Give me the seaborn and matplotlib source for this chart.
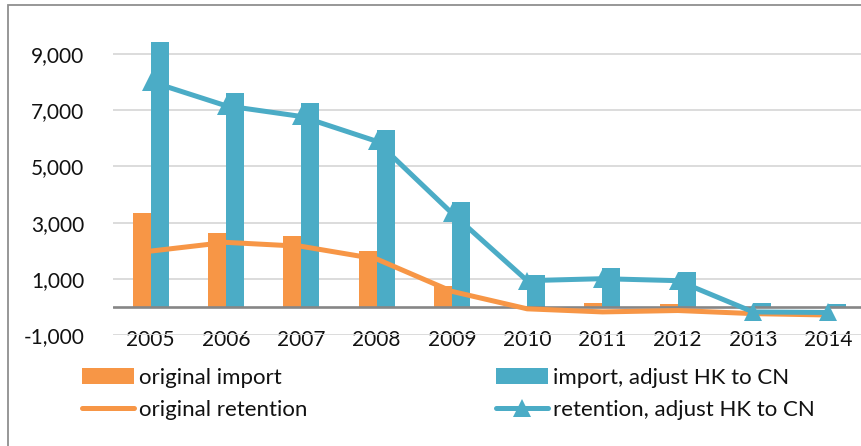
import numpy as np
import pandas as pd
import matplotlib
matplotlib.use("Agg")
import matplotlib.pyplot as plt
from matplotlib.patches import Patch, Rectangle
from matplotlib.lines import Line2D
import seaborn as sns

years = ["2005", "2006", "2007", "2008", "2009", "2010", "2011", "2012", "2013", "2014"]
original_import = [3340, 2650, 2540, 2000, 740, 20, 160, 110, 0, 0]
import_adjusted = [9400, 7590, 7240, 6280, 3730, 1140, 1380, 1240, 130, 100]
original_retention = [1990, 2300, 2160, 1710, 560, -60, -170, -120, -230, -280]
retention_adjusted = [8010, 7150, 6770, 5890, 3340, 940, 1010, 940, -170, -190]
yticks = [-1000, 1000, 3000, 5000, 7000, 9000]

series_names = ["original import", "import, adjust HK to CN",
                "original retention", "retention, adjust HK to CN"]
ORANGE = "#F79646"
BLUE = "#4BACC6"

sns.set_style("white")
plt.rcParams["font.family"] = ["Lato", "DejaVu Sans"]
plt.rcParams["font.size"] = 15

W, H = 862, 446
fig = plt.figure(figsize=(W / 100, H / 100), dpi=100)
left, right = 113, 866
top, bottom = 25.5, 335.3
ax = fig.add_axes([left / W, (H - bottom) / H, (right - left) / W, (bottom - top) / H])

bars = pd.DataFrame({
    "year": years * 2,
    "series": [series_names[0]] * len(years) + [series_names[1]] * len(years),
    "value": original_import + import_adjusted,
})
sns.barplot(data=bars, x="year", y="value", hue="series", order=years,
            hue_order=series_names[:2], palette=[ORANGE, BLUE], width=0.478,
            saturation=1, legend=False, ax=ax, zorder=2, linewidth=0)

pos = np.arange(len(years))
ax.axhline(0, color="#868686", lw=1.9, zorder=2.5)
sns.lineplot(x=pos, y=original_retention, color=ORANGE, lw=3.6, ax=ax,
             zorder=3, solid_joinstyle="round", solid_capstyle="round")
sns.lineplot(x=pos, y=retention_adjusted, color=BLUE, lw=3.6, marker="^",
             markersize=13, markeredgewidth=0, ax=ax, zorder=4,
             solid_joinstyle="round", solid_capstyle="round")

ax.set_xlim(-0.5, 9.5)
ax.set_ylim(-1000, 10000)
ax.set_yticks(yticks)
ax.set_yticklabels([f"{v:,}" for v in yticks])
ax.set_xticks(pos)
ax.set_xticklabels(years)
ax.yaxis.grid(True, color="#d9d9d9", lw=1.3)
ax.xaxis.grid(False)
ax.set_axisbelow(True)
for s in ax.spines.values():
    s.set_visible(False)
ax.tick_params(axis="y", length=0, pad=20.7, labelcolor="#111111")
ax.tick_params(axis="x", length=0, pad=-3.5, labelcolor="#111111")
ax.set_xlabel("")
ax.set_ylabel("")

h1 = [Patch(facecolor=ORANGE, edgecolor="none"),
      Line2D([], [], color=ORANGE, lw=3.6, solid_capstyle="round")]
h2 = [Patch(facecolor=BLUE, edgecolor="none"),
      Line2D([], [], color=BLUE, lw=3.6, marker="^", markersize=13,
             markeredgewidth=0, solid_capstyle="round")]
common = dict(loc="center left", frameon=False, borderpad=0, borderaxespad=0,
              handlelength=2.35, handletextpad=0.22, labelspacing=0.52,
              fontsize=16, labelcolor="#111111")
fig.legend(h1, series_names[0::2], bbox_to_anchor=(82 / W, (H - 393.8) / H), **common)
fig.legend(h2, series_names[1::2], bbox_to_anchor=(496 / W, (H - 393.8) / H), **common)

fig.patches.append(Rectangle((8.3 / W, -0.05), 1.2, (H - 5) / H + 0.05,
                             transform=fig.transFigure, fill=False,
                             edgecolor="#8f8f8f", lw=1.3, zorder=10))

fig.savefig("out.png", dpi=100)
